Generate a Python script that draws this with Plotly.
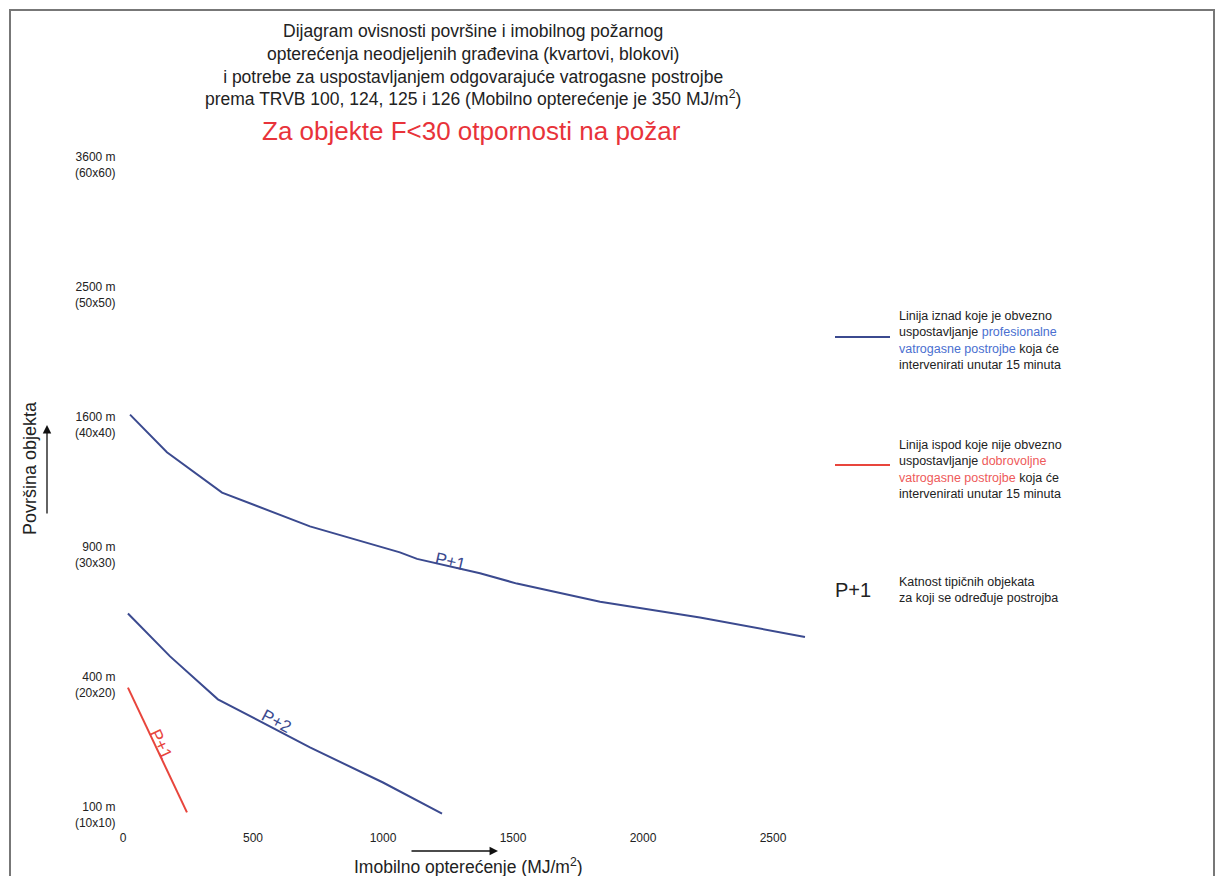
import plotly.graph_objects as go

# imobilno opterecenje (MJ/m2) i stranica objekta (m) -> povrsina = stranica^2
p1_x = [27, 169, 381, 719, 1065, 1131, 1373, 1515, 1835, 2219, 2623]
p1_y = [40.8, 37.9, 34.8, 32.2, 30.2, 29.7, 28.6, 27.8, 26.4, 25.2, 23.7]

p2_x = [19, 181, 365, 527, 719, 1000, 1227]
p2_y = [25.5, 22.2, 18.9, 17.2, 15.2, 12.5, 10.1]

dvp_x = [19, 246]
dvp_y = [19.8, 10.2]

y_ticks = [10, 20, 30, 40, 50, 60]
y_ticktext = ["100 m<br>(10x10)", "400 m<br>(20x20)", "900 m<br>(30x30)",
              "1600 m<br>(40x40)", "2500 m<br>(50x50)", "3600 m<br>(60x60)"]
x_ticks = [0, 500, 1000, 1500, 2000, 2500]

BLUE = '#3b4a8f'
RED = '#e8453c'
FONT = 'Liberation Sans, Arial, sans-serif'

# body margin of the html page
OFF = 8
W, H = 1225 - 2 * OFF, 884 - 2 * OFF
# plot area on screen
L, R, T, B = 123, 812, 165, 815


def px(x):
    return (x - L) / (R - L)


def py(y):
    return (B - y) / (B - T)


def txt(x, y, text, size, color='#222', **kw):
    d = dict(x=px(x), y=py(y), xref='paper', yref='paper', showarrow=False, text=text,
             font=dict(size=size, color=color), xanchor='center', yanchor='middle')
    d.update(kw)
    return d


fig = go.Figure()
fig.add_trace(go.Scatter(x=p1_x, y=p1_y, mode='lines', line=dict(color=BLUE, width=2), name='P+1'))
fig.add_trace(go.Scatter(x=p2_x, y=p2_y, mode='lines', line=dict(color=BLUE, width=2), name='P+2'))
fig.add_trace(go.Scatter(x=dvp_x, y=dvp_y, mode='lines', line=dict(color=RED, width=2), name='P+1 DVP'))

ann = []
# naslov
ann.append(txt(473, 65,
               "Dijagram ovisnosti površine i imobilnog požarnog<br>"
               "opterećenja neodjeljenih građevina (kvartovi, blokovi)<br>"
               "i potrebe za uspostavljanjem odgovarajuće vatrogasne postrojbe<br>"
               "prema TRVB 100, 124, 125 i 126 (Mobilno opterećenje je 350 MJ/m<sup>2</sup>)",
               17.5, align='center'))
ann.append(txt(472, 131, "Za objekte F<30 otpornosti na požar", 26, '#e8333a'))

# naljepnice na linijama
ann.append(dict(x=1258, y=29.5, text="P+1", showarrow=False, textangle=13,
                font=dict(size=17, color=BLUE)))
ann.append(dict(x=590, y=17.2, text="P+2", showarrow=False, textangle=28,
                font=dict(size=17, color=BLUE)))
ann.append(dict(x=145, y=15.4, text="P+1", showarrow=False, textangle=65,
                font=dict(size=17, color=RED)))

# naslovi osi
ann.append(txt(468, 866, "Imobilno opterećenje (MJ/m<sup>2</sup>)", 17.5))
ann.append(dict(x=px(498), y=py(851), xref='paper', yref='paper', text="", showarrow=True,
                ax=-88, ay=0, arrowhead=2, arrowsize=1.3, arrowwidth=1.3, arrowcolor='#111'))
ann.append(txt(30, 468, "Površina objekta", 18, textangle=-90))
ann.append(dict(x=px(47), y=py(425), xref='paper', yref='paper', text="", showarrow=True,
                ax=0, ay=90, arrowhead=2, arrowsize=1.3, arrowwidth=1.3, arrowcolor='#111'))

# legenda
ann.append(txt(897, 340,
               "Linija iznad koje je obvezno<br>uspostavljanje <span style='color:#4a6fd0'>profesionalne</span><br>"
               "<span style='color:#4a6fd0'>vatrogasne postrojbe</span> koja će<br>intervenirati unutar 15 minuta",
               12.5, xanchor='left', align='left'))
ann.append(txt(897, 469,
               "Linija ispod koje nije obvezno<br>uspostavljanje <span style='color:#ee5a5a'>dobrovoljne</span><br>"
               "<span style='color:#ee5a5a'>vatrogasne postrojbe</span> koja će<br>intervenirati unutar 15 minuta",
               12.5, xanchor='left', align='left'))
ann.append(txt(853, 590, "P+1", 20))
ann.append(txt(897, 590, "Katnost tipičnih objekata<br>za koji se određuje postrojba",
               12.5, xanchor='left', align='left'))

shapes = [
    dict(type='line', xref='paper', yref='paper', x0=px(835), x1=px(890), y0=py(337), y1=py(337),
         line=dict(color=BLUE, width=2)),
    dict(type='line', xref='paper', yref='paper', x0=px(835), x1=px(890), y0=py(465), y1=py(465),
         line=dict(color=RED, width=2)),
    dict(type='rect', xref='paper', yref='paper', x0=px(10), x1=px(1214), y0=py(10), y1=py(892),
         line=dict(color='#777', width=2)),
]

fig.update_xaxes(range=[0, 2650], tickvals=x_ticks, showgrid=False, zeroline=False, showline=False,
                 ticks='outside', ticklen=12, tickcolor='rgba(0,0,0,0)',
                 tickfont=dict(size=12, color='#222'))
fig.update_yaxes(range=[10, 60], tickvals=y_ticks, ticktext=y_ticktext, showgrid=False,
                 zeroline=False, showline=False, ticks='outside', ticklen=4,
                 tickcolor='rgba(0,0,0,0)', tickfont=dict(size=12, color='#222'))

fig.update_layout(
    width=W, height=H,
    margin=dict(l=L - OFF, r=W + OFF - R, t=T - OFF, b=H + OFF - B),
    paper_bgcolor='white', plot_bgcolor='white',
    showlegend=False,
    font=dict(family=FONT),
    annotations=ann,
    shapes=shapes,
)

fig.write_html("out.html")
